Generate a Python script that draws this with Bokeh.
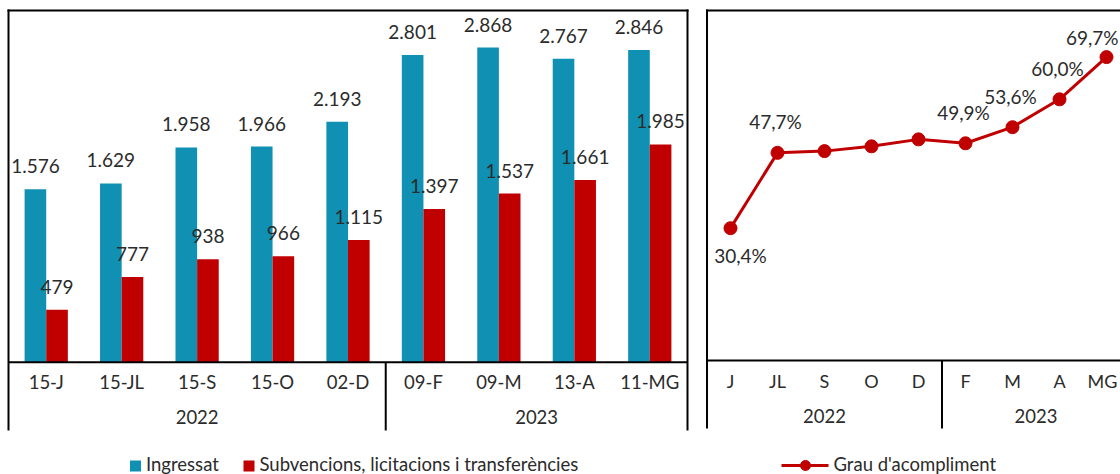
from bokeh.plotting import figure
from bokeh.models import Range1d
from bokeh.layouts import row
from bokeh.embed import file_html
from bokeh.resources import INLINE
from bokeh.core.properties import value

# ---------------- data ----------------
bar_months = ["15-J", "15-JL", "15-S", "15-O", "02-D", "09-F", "09-M", "13-A", "11-MG"]
years = ["2022", "2023"]
year_counts = [5, 4]
ingressat = [1576, 1629, 1958, 1966, 2193, 2801, 2868, 2767, 2846]
subvencions = [479, 777, 938, 966, 1115, 1397, 1537, 1661, 1985]
series_names = ["Ingressat", "Subvencions, licitacions i transferències"]

line_months = ["J", "JL", "S", "O", "D", "F", "M", "A", "MG"]
grau = [30.4, 47.7, 48.1, 49.2, 50.8, 49.9, 53.6, 60.0, 69.7]
grau_shown = [True, True, False, False, False, True, True, True, True]
line_name = "Grau d'acompliment"

# ---------------- style ----------------
BLUE = "#1090B2"
RED = "#C00000"
TXT = "#2B2B2B"
FONT = value("Lato")
LINE = "#000000"
FIX = -8         # baseline correction (px) for the svg text renderer

H = 474
WL = 697
WR = 423
PX0 = 0
PXR = PX0 + WL


def th(v):
    return f"{v:,}".replace(",", ".")


def pct(v):
    return f"{v:.1f}%".replace(".", ",")


def base_fig(w, xr, yr, px_start):
    p = figure(width=w, height=H, x_range=xr, y_range=yr, output_backend="svg",
               toolbar_location=None, min_border=0, x_axis_location=None,
               y_axis_location=None)
    p.xgrid.visible = False
    p.ygrid.visible = False
    p.outline_line_color = None
    p.background_fill_color = "white"
    p.border_fill_color = "white"
    p.extra_x_ranges = {"px": Range1d(px_start, px_start + w)}
    p.extra_y_ranges = {"px": Range1d(H, 0)}
    return p


def txt(p, size, **kw):
    kw.setdefault("text_align", "center")
    kw["y_offset"] = kw.get("y_offset", 0) + FIX
    return p.text(text_baseline="alphabetic", text_font=FONT, text_font_size=size,
                  text_color=TXT, **kw)


def group_centers(counts):
    c, start = [], 0
    for n in counts:
        c.append(start + (n - 1) / 2)
        start += n
    return c


def separators(counts):
    s, start = [], 0
    for n in counts[:-1]:
        start += n
        s.append(start - 0.5)
    return s


n = len(bar_months)
idx = list(range(n))

# ---------------- left: bars ----------------
cw = 679 / n
boxL = 8.0
axisL = 361.7
kL = 0.1097
xrL = Range1d((PX0 - boxL) / cw - 0.5, (PX0 + WL - boxL) / cw - 0.5)
yrL = Range1d(-(H - axisL) / kL, axisL / kL)
p1 = base_fig(WL, xrL, yrL, PX0)

bw = 0.2866
xb = [i - bw / 2 for i in idx]
xr_ = [i + bw / 2 for i in idx]
p1.vbar(x=xb, top=ingressat, width=bw, fill_color=BLUE, line_color=None)
p1.vbar(x=xr_, top=subvencions, width=bw, fill_color=RED, line_color=None)
txt(p1, "19px", x=xb, y=ingressat, text=[th(v) for v in ingressat], y_offset=-15)
txt(p1, "19px", x=xr_, y=subvencions, text=[th(v) for v in subvencions], y_offset=-15)

# frame lines
p1.segment(x0=[-0.5], y0=[0], x1=[n - 0.5], y1=[0], line_color=LINE, line_width=2)
p1.segment(x0=[boxL - 1], y0=[10], x1=[boxL + n * cw + 1], y1=[10], line_color=LINE,
           line_width=2, x_range_name="px", y_range_name="px")
p1.segment(x0=[boxL, boxL + n * cw], y0=[9, 9], x1=[boxL, boxL + n * cw],
           y1=[430, 430], line_color=LINE, line_width=2, x_range_name="px", y_range_name="px")
sepL = separators(year_counts)
p1.segment(x0=sepL, y0=[axisL] * len(sepL), x1=sepL, y1=[430] * len(sepL),
           line_color=LINE, line_width=2, y_range_name="px")

txt(p1, "18.5px", x=idx, y=[389] * n, text=bar_months, y_range_name="px")
txt(p1, "18.5px", x=group_centers(year_counts), y=[424] * len(years), text=years,
    y_range_name="px")

# legend (left)
LEG_Y = 471
p1.rect(x=[135, 248.5], y=[LEG_Y - 5.5] * 2, width=11, height=11, fill_color=[BLUE, RED],
        line_color=None, x_range_name="px", y_range_name="px")
txt(p1, "18.5px", x=[145.5, 259], y=[LEG_Y] * 2, text=series_names, text_align="left",
    x_range_name="px", y_range_name="px")

# ---------------- right: line ----------------
cwR = 47.0
boxR = 706.5
axisR = 360.0
kR = 4.353
xrR = Range1d((PXR - boxR) / cwR - 0.5, (PXR + WR - boxR) / cwR - 0.5)
yrR = Range1d(-(H - axisR) / kR, axisR / kR)
p2 = base_fig(WR, xrR, yrR, PXR)

p2.segment(x0=[-0.5], y0=[0], x1=[n + 1], y1=[0], line_color=LINE, line_width=2)
p2.segment(x0=[boxR - 1], y0=[10], x1=[PXR + WR], y1=[10], line_color=LINE,
           line_width=2, x_range_name="px", y_range_name="px")
p2.segment(x0=[boxR], y0=[9], x1=[boxR], y1=[428], line_color=LINE,
           line_width=2, x_range_name="px", y_range_name="px")
p2.segment(x0=sepL, y0=[axisR] * len(sepL), x1=sepL, y1=[428] * len(sepL),
           line_color=LINE, line_width=2, y_range_name="px")

p2.line(x=idx, y=grau, line_color=RED, line_width=3)
p2.scatter(x=idx, y=grau, size=13, marker="circle", fill_color=RED, line_color=RED)

lab_i = [i for i in idx if grau_shown[i]]
below = [lab_i[0]]
mid = lab_i[1:-1]
last = [lab_i[-1]]
txt(p2, "19px", x=below, y=[grau[i] for i in below], text=[pct(grau[i]) for i in below],
    x_offset=10, y_offset=35)
txt(p2, "19px", x=mid, y=[grau[i] for i in mid], text=[pct(grau[i]) for i in mid],
    x_offset=-2, y_offset=-23)
txt(p2, "19px", x=last, y=[grau[i] for i in last], text=[pct(grau[i]) for i in last],
    text_align="right", x_offset=12, y_offset=-12)

# last tick label is kept inside the visible edge
month_dx = [0] * (n - 1) + [-4]
txt(p2, "18px", x=idx, y=[388] * n, text=line_months, x_offset=month_dx, y_range_name="px")
txt(p2, "18.5px", x=group_centers(year_counts), y=[423] * len(years), text=years,
    y_range_name="px")

# legend (right)
p2.segment(x0=[781], y0=[LEG_Y - 6], x1=[828], y1=[LEG_Y - 6], line_color=RED, line_width=3,
           x_range_name="px", y_range_name="px")
p2.scatter(x=[805], y=[LEG_Y - 6], size=10, marker="circle", fill_color=RED, line_color=RED,
           x_range_name="px", y_range_name="px")
txt(p2, "18.5px", x=[833], y=[LEG_Y], text=[line_name], text_align="left",
    x_range_name="px", y_range_name="px")

layout = row(p1, p2, spacing=0)
open("out.html", "w").write(file_html(layout, INLINE))
